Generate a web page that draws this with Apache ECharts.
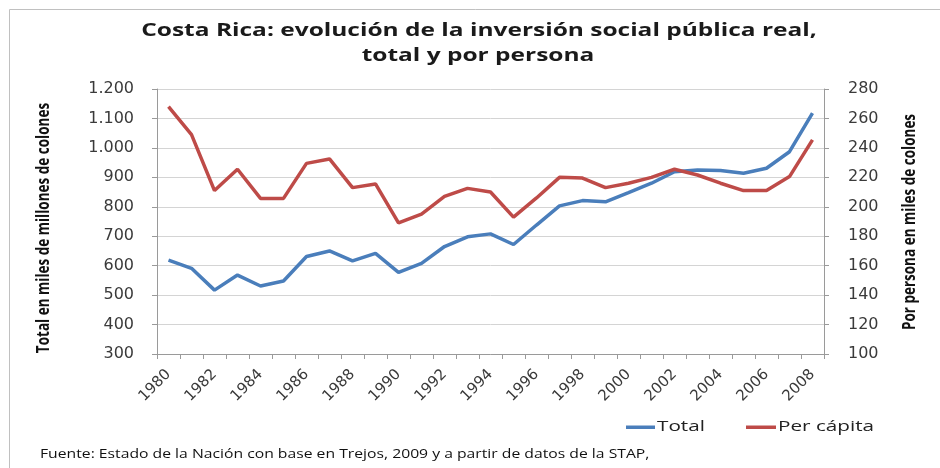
<!DOCTYPE html>
<html>
<head>
<meta charset="utf-8">
<script src="https://cdn.jsdelivr.net/npm/echarts@6/dist/echarts.min.js"></script>
<style>html,body{margin:0;padding:0;background:#fff}#c{width:940px;height:468px}</style>
</head>
<body>
<div id="c"></div>
<script>
const years = ['1980','1981','1982','1983','1984','1985','1986','1987','1988','1989','1990','1991','1992','1993','1994','1995','1996','1997','1998','1999','2000','2001','2002','2003','2004','2005','2006','2007','2008'];
const total = [619,591,517,568,531,548,631,650,616,642,577,608,665,698,708,672,738,803,821,817,848,880,919,925,923,914,931,987,1118];
const perCapita = [268,249,211,225.5,205.7,205.7,229.5,232.5,213,215.5,189,195,207,212.5,210,193,206,220,219.5,213,216,220,225.5,221.6,216,211,211,220.5,245.4];
const leftTicks = {min:300, max:1200, interval:100};
const rightTicks = {min:100, max:280, interval:20};
const seriesNames = ['Total','Per cápita'];
const titleLines = ['Costa Rica: evolución de la inversión social pública real,','total y por persona'];
const leftName = 'Total en miles de millones de colones';
const rightName = 'Por persona en miles de colones';
const sourceNote = 'Fuente: Estado de la Nación con base en Trejos, 2009 y a partir de datos de la STAP,';

const colors = ['#4a7ebb','#be4b48'];
const chart = echarts.init(document.getElementById('c'), null, {renderer:'canvas'});
const axisCol = '#9a9a9a';
const labelCol = '#3a3a3a';
const fmtThousands = v => {
  const s = String(Math.round(v));
  return s.length > 3 ? s.slice(0, s.length-3) + '.' + s.slice(-3) : s;
};
const sx = 1.36;
const graphics = [
  {type:'rect', shape:{x:9.5,y:9.5,width:940,height:470}, style:{fill:null, stroke:'#c0c0c0', lineWidth:1}, silent:true},
  {type:'text', x:479, y:31, scaleX:sx, style:{text:titleLines[0], font:'bold 18px "Open Sans"', fill:'#1a1a1a', textAlign:'center', textVerticalAlign:'middle'}},
  {type:'text', x:478, y:56, scaleX:sx, style:{text:titleLines[1], font:'bold 18px "Open Sans"', fill:'#1a1a1a', textAlign:'center', textVerticalAlign:'middle'}},
  {type:'text', x:44, y:228, rotation:Math.PI/2, scaleY:1.3, style:{text:leftName, font:'bold 13.5px "Open Sans"', fill:'#111', textAlign:'center', textVerticalAlign:'middle'}},
  {type:'text', x:910, y:222, rotation:Math.PI/2, scaleY:1.3, style:{text:rightName, font:'bold 13.5px "Open Sans"', fill:'#111', textAlign:'center', textVerticalAlign:'middle'}},
  {type:'text', x:40, y:455, scaleX:1.31, style:{text:sourceNote, font:'12px "Open Sans"', fill:'#111', textAlign:'left', textVerticalAlign:'middle'}},
  // legend
  {type:'rect', shape:{x:626,y:425.5,width:29,height:3.5}, style:{fill:colors[0]}},
  {type:'text', x:657, y:427, scaleX:1.38, style:{text:seriesNames[0], font:'15px "Open Sans"', fill:'#222', textAlign:'left', textVerticalAlign:'middle'}},
  {type:'rect', shape:{x:746,y:425.5,width:30,height:3.5}, style:{fill:colors[1]}},
  {type:'text', x:778, y:427, scaleX:1.38, style:{text:seriesNames[1], font:'15px "Open Sans"', fill:'#222', textAlign:'left', textVerticalAlign:'middle'}}
];
chart.setOption({
  backgroundColor:'#fff',
  animation:false,
  graphic:graphics,
  grid:{left:157, right:116, top:89, bottom:114, containLabel:false},
  xAxis:{
    type:'category', data:years, boundaryGap:true,
    axisLine:{lineStyle:{color:axisCol, width:1}},
    axisTick:{show:true, alignWithLabel:false, interval:0, length:5, lineStyle:{color:axisCol}},
    axisLabel:{interval:1, rotate:45, fontFamily:'DejaVu Sans', fontSize:15, color:labelCol, margin:18},
    splitLine:{show:false}
  },
  yAxis:[{
    type:'value', min:leftTicks.min, max:leftTicks.max, interval:leftTicks.interval,
    axisLine:{show:true, lineStyle:{color:axisCol}},
    axisTick:{show:true, length:5, lineStyle:{color:axisCol}},
    axisLabel:{formatter:fmtThousands, fontFamily:'DejaVu Sans', fontSize:16, color:labelCol, margin:23},
    splitLine:{show:true, lineStyle:{color:'#d4d4d4', width:1}}
  },{
    type:'value', min:rightTicks.min, max:rightTicks.max, interval:rightTicks.interval, position:'right',
    axisLine:{show:true, lineStyle:{color:axisCol}},
    axisTick:{show:true, length:5, lineStyle:{color:axisCol}},
    axisLabel:{fontFamily:'DejaVu Sans', fontSize:16, color:labelCol, margin:24},
    splitLine:{show:false}
  }],
  series:[{
    name:seriesNames[0], type:'line', yAxisIndex:0, data:total, showSymbol:false, symbol:'none',
    lineStyle:{color:colors[0], width:3.5}, itemStyle:{color:colors[0]}
  },{
    name:seriesNames[1], type:'line', yAxisIndex:1, data:perCapita, showSymbol:false, symbol:'none',
    lineStyle:{color:colors[1], width:3.5}, itemStyle:{color:colors[1]}
  }]
});
</script>
</body>
</html>
